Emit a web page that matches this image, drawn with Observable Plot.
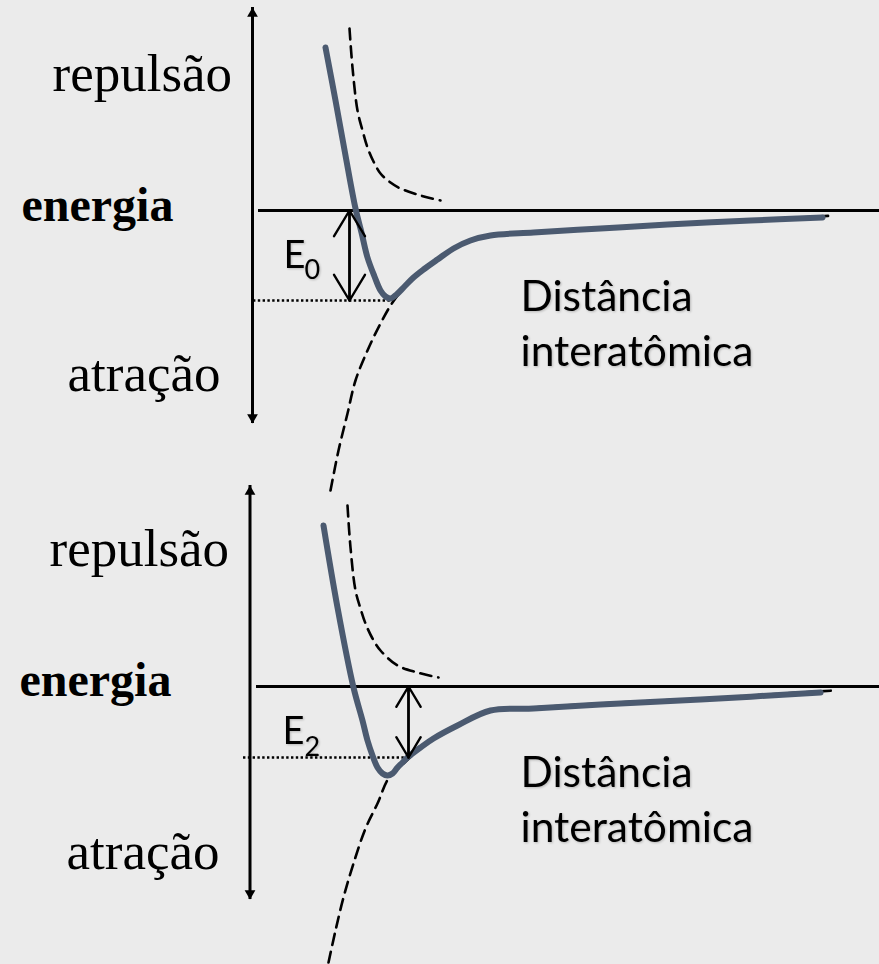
<!DOCTYPE html>
<html>
<head>
<meta charset="utf-8">
<script src="https://cdn.jsdelivr.net/npm/d3@7"></script>
<script src="https://cdn.jsdelivr.net/npm/@observablehq/plot@0.6"></script>
<style>
  html, body { margin: 0; padding: 0; background: #ebebeb; }
  #chart svg { display: block; }
  #chart g[font-family^="Lato"] text { filter: drop-shadow(1.5px 1.5px 1px rgba(0,0,0,0.22)); }
</style>
</head>
<body>
<div id="chart"></div>
<script>
// Panels (two scenarios)
const panels = ["top", "bottom"];

// Net potential energy curves: [distance, energy]
const netTop = [[3.25,1.63],[3.35,1.10],[3.45,0.55],[3.55,0.02],[3.61,-0.22],[3.67,-0.47],[3.74,-0.66],[3.80,-0.80],[3.85,-0.86],[3.90,-0.88],[3.96,-0.84],[4.04,-0.76],[4.13,-0.67],[4.23,-0.59],[4.37,-0.49],[4.53,-0.38],[4.70,-0.30],[4.90,-0.25],[5.33,-0.22],[6.00,-0.18],[6.67,-0.14],[7.50,-0.10],[8.22,-0.07]];
const netBottom = [[3.23,1.61],[3.37,0.79],[3.53,-0.01],[3.62,-0.34],[3.67,-0.54],[3.72,-0.69],[3.77,-0.81],[3.82,-0.87],[3.87,-0.89],[3.92,-0.87],[3.97,-0.81],[4.02,-0.76],[4.07,-0.71],[4.20,-0.61],[4.33,-0.52],[4.57,-0.39],[4.90,-0.24],[5.33,-0.22],[6.00,-0.18],[7.00,-0.13],[8.20,-0.06]];

// Repulsive component (dashed)
const repTop = [[3.49,1.82],[3.52,1.43],[3.57,1.00],[3.62,0.80],[3.67,0.63],[3.73,0.49],[3.80,0.37],[3.90,0.28],[4.00,0.22],[4.20,0.15],[4.40,0.10]];
const repBottom = [[3.47,1.81],[3.50,1.39],[3.55,0.96],[3.60,0.78],[3.65,0.63],[3.72,0.48],[3.80,0.36],[3.97,0.21],[4.17,0.14],[4.38,0.09]];

// Attractive component (dashed)
const attTop = [[3.30,-2.80],[3.38,-2.40],[3.47,-2.03],[3.55,-1.70],[3.67,-1.40],[3.80,-1.13],[3.92,-0.92],[4.04,-0.77],[4.13,-0.67],[4.23,-0.59],[4.37,-0.49],[4.53,-0.38],[4.70,-0.30],[4.90,-0.25],[5.33,-0.22],[6.00,-0.18],[6.67,-0.14],[7.50,-0.10],[8.33,-0.05]];
const attBottom = [[3.28,-2.76],[3.35,-2.44],[3.43,-2.11],[3.53,-1.77],[3.65,-1.42],[3.77,-1.17],[3.88,-0.92],[4.00,-0.80],[4.15,-0.66],[4.37,-0.49],[4.57,-0.38],[4.90,-0.24],[5.33,-0.21],[6.00,-0.17],[7.00,-0.12],[8.33,-0.04]];

// Energy axis (vertical arrow): distance, top tip energy, bottom tip energy
const axisX = [2.52, 2.495];
const axisTop = [2.03, 2.01];
const axisBottom = [-2.13, -2.13];

// Zero-energy line start / end
const zeroStart = [2.58, 2.56];
const zeroEnd = [8.79, 8.79];

// Bond-energy markers (E0, E2)
const eLabel = ["0", "2"];
const eArrowX = [3.49, 4.08];
const eDepth = [-0.90, -0.71];
const dottedStart = [2.53, 2.43];
const dottedEnd = [3.93, 4.08];

// Text labels
const serifLabels = ["repulsão", "energia", "atração"];
const serifX = [[0.52, 0.21, 0.67], [0.49, 0.19, 0.66]];
const serifE = [[1.20, -0.10, -1.80], [1.21, -0.09, -1.82]];
const distLabels = ["Distância", "interatômica"];
const distX = 5.20;
const distE = [-1.00, -1.55];
const eSymX = [2.83, 2.82];
const eSymE = [-0.57, -0.57];
const eSubX = [3.04, 3.04];
const eSubE = [-0.68, -0.69];

const toRows = (panel, pts) => pts.map(([d, e]) => ({panel, d, e}));
const net = [...toRows("top", netTop), ...toRows("bottom", netBottom)];
const rep = [...toRows("top", repTop), ...toRows("bottom", repBottom)];
const att = [...toRows("top", attTop), ...toRows("bottom", attBottom)];

const axes = panels.map((panel, i) => ({panel, d: axisX[i], e1: axisTop[i], e2: axisBottom[i]}));
const headsUp = panels.map((panel, i) => ({panel, d: axisX[i], e: axisTop[i]}));
const headsDown = panels.map((panel, i) => ({panel, d: axisX[i], e: axisBottom[i]}));
const zeros = panels.map((panel, i) => ({panel, d1: zeroStart[i], d2: zeroEnd[i], e: 0}));
const eArrows = panels.flatMap((panel, i) => [
  {panel, d: eArrowX[i], from: eDepth[i], to: 0},
  {panel, d: eArrowX[i], from: 0, to: eDepth[i]}
]);
const dotted = panels.map((panel, i) => ({panel, d1: dottedStart[i], d2: dottedEnd[i], e: eDepth[i]}));
const serif = panels.flatMap((panel, i) => serifLabels.map((t, j) => ({panel, t, d: serifX[i][j], e: serifE[i][j], bold: t === "energia"})));
const sans = panels.flatMap((panel) => distLabels.map((t, j) => ({panel, t, d: distX, e: distE[j]})));
const eSym = panels.map((panel, i) => ({panel, t: "E", d: eSymX[i], e: eSymE[i]}));
const eSub = panels.map((panel, i) => ({panel, t: eLabel[i], d: eSubX[i], e: eSubE[i]}));

const chart = Plot.plot({
  width: 879,
  height: 964,
  marginTop: 0,
  marginLeft: 0,
  marginRight: 0,
  marginBottom: 12,
  x: {domain: [0, 8.79], axis: null},
  y: {domain: [-2.66, 2.10], axis: null},
  fy: {domain: panels, axis: null, padding: 0},
  style: {background: "#ebebeb", overflow: "visible"},
  marks: [
    Plot.ruleY(zeros, {fy: "panel", y: "e", x1: "d1", x2: "d2", stroke: "#000", strokeWidth: 2.8}),
    Plot.ruleX(axes, {fy: "panel", x: "d", y1: "e1", y2: "e2", stroke: "#000", strokeWidth: 3}),
    Plot.dot(headsUp, {fy: "panel", x: "d", y: "e", symbol: "triangle", r: 4, fill: "#000", stroke: "none", dy: 6.2}),
    Plot.dot(headsDown, {fy: "panel", x: "d", y: "e", symbol: "triangle", r: 4, fill: "#000", stroke: "none", rotate: 180, dy: -6.2}),
    Plot.ruleY(dotted, {fy: "panel", y: "e", x1: "d1", x2: "d2", stroke: "#000", strokeWidth: 2.5, strokeDasharray: "2.4,2.4"}),
    Plot.line(rep, {fy: "panel", x: "d", y: "e", z: "panel", curve: "catmull-rom", stroke: "#000", strokeWidth: 2.6, strokeDasharray: "11,7"}),
    Plot.line(att, {fy: "panel", x: "d", y: "e", z: "panel", curve: "catmull-rom", stroke: "#000", strokeWidth: 2.6, strokeDasharray: "11,7"}),
    Plot.line(net, {fy: "panel", x: "d", y: "e", z: "panel", curve: "catmull-rom", stroke: "#4b5a70", strokeWidth: 6}),
    Plot.arrow(eArrows, {fy: "panel", x: "d", y1: "from", y2: "to", stroke: "#000", strokeWidth: 2.4, headLength: 19, headAngle: 62}),
    Plot.text(serif.filter(r => !r.bold), {fy: "panel", x: "d", y: "e", text: "t", textAnchor: "start", lineAnchor: "bottom", fontFamily: "Liberation Serif", fontSize: 53, fill: "#000"}),
    Plot.text(serif.filter(r => r.bold), {fy: "panel", x: "d", y: "e", text: "t", textAnchor: "start", lineAnchor: "bottom", fontFamily: "Liberation Serif", fontWeight: "bold", fontSize: 48, fill: "#000"}),
    Plot.text(sans, {fy: "panel", x: "d", y: "e", text: "t", textAnchor: "start", lineAnchor: "bottom", fontFamily: "Lato", fontSize: 42.5, fill: "#000"}),
    Plot.text(eSym, {fy: "panel", x: "d", y: "e", text: "t", textAnchor: "start", lineAnchor: "bottom", fontFamily: "Lato", fontSize: 38, fill: "#000"}),
    Plot.text(eSub, {fy: "panel", x: "d", y: "e", text: "t", textAnchor: "start", lineAnchor: "bottom", fontFamily: "Lato", fontSize: 27, fill: "#000"})
  ]
});
document.getElementById("chart").append(chart);
</script>
</body>
</html>
